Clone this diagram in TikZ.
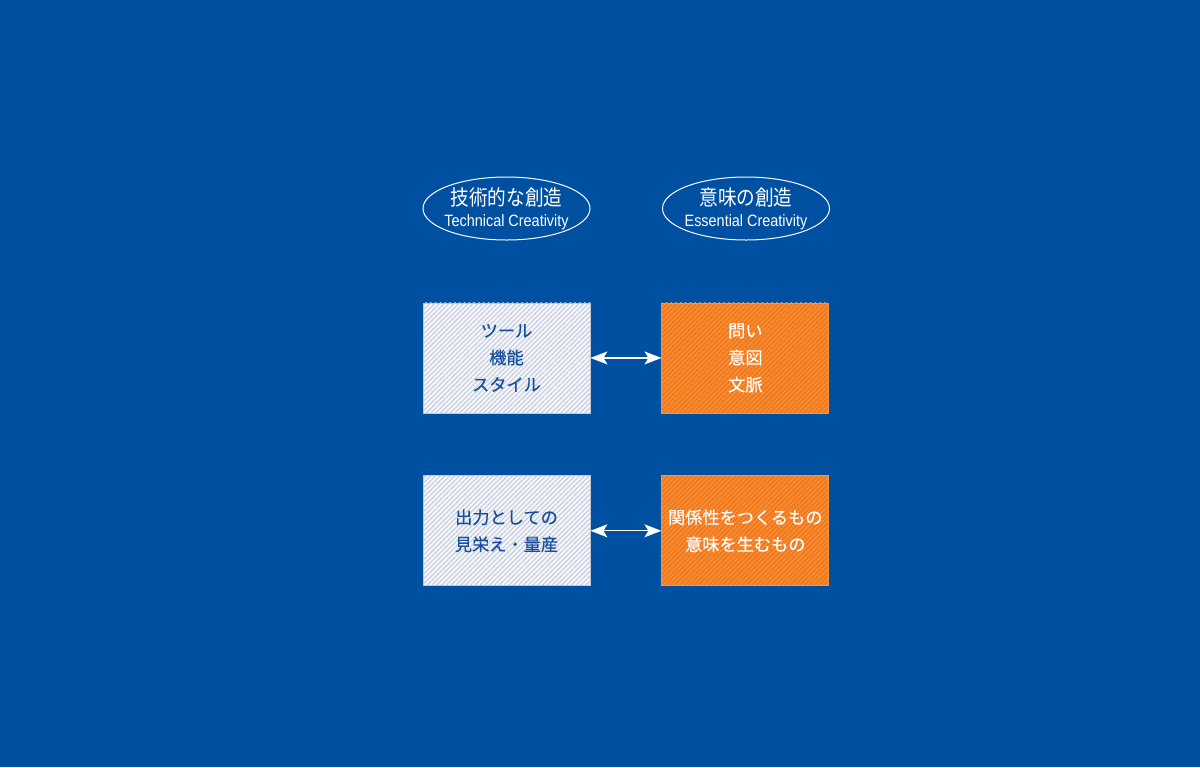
\documentclass[tikz,border=0pt]{standalone}
\usepackage{fontspec}
\newfontfamily\jpfont[FakeBold=0.2]{Noto Sans CJK JP}
\newfontfamily\jptitlefont[FakeStretch=0.88]{Noto Sans CJK JP}
\newfontfamily\subtitlefont[FakeStretch=0.88]{Liberation Sans}
\usetikzlibrary{positioning, shapes.geometric, patterns.meta, arrows.meta}
\definecolor{bgblue}{RGB}{0,80,162}
\definecolor{boxwhite}{RGB}{243,245,250}
\definecolor{hatchgray}{RGB}{192,199,215}
\definecolor{boxorange}{RGB}{240,122,28}
\definecolor{hatchorange}{RGB}{250,150,66}
\definecolor{textblue}{RGB}{22,78,158}
\tikzset{%
    ellsty/.style={
        ellipse,
        draw=white,
        line width=0.5pt,
        text=white,
        align=center,
        inner xsep=-2.4pt,
        inner ysep=-1.5pt,
        minimum width=83.5pt,
        minimum height=31.5pt,
    },
    boxsty/.style={
        rectangle,
        align=center,
        inner sep=0pt,
        minimum width=83.5pt,
        minimum height=55pt,
        font=\jpfont\fontsize{8.6pt}{13.5pt}\selectfont,
    },
    wboxsty/.style={
        boxsty,
        draw=hatchgray,
        line width=0.4pt,
        text=textblue,
        preaction={fill=boxwhite},
        pattern={Lines[angle=45,distance=1.7pt,line width=0.45pt]},
        pattern color=hatchgray,
    },
    oboxsty/.style={
        boxsty,
        draw=hatchorange,
        line width=0.4pt,
        text=white,
        preaction={fill=boxorange},
        pattern={Lines[angle=45,distance=1.7pt,line width=0.45pt]},
        pattern color=hatchorange,
    },
    arrowsty/.style={
        draw=white,
        line width=0.6pt,
        {Stealth[length=8.5pt,width=6.5pt,inset=2pt]}-{Stealth[length=8.5pt,width=6.5pt,inset=2pt]},
    },
}
\newcommand{\ttl}[2]{{\jptitlefont\fontsize{10.6pt}{12pt}\selectfont #1}\\[-1.5pt]{\subtitlefont\fontsize{8.2pt}{9pt}\selectfont #2}}

\begin{document}
\begin{tikzpicture}[]

% background
\fill[bgblue] (0pt,0pt) rectangle (600pt,-383.5pt);
\useasboundingbox (0pt,0pt) rectangle (600pt,-383.5pt);

% column heads
\node (tech) [ellsty] at (253.25pt,-104.25pt) {\ttl{技術的な創造}{Technical Creativity}};
\node (ess) [ellsty,right=35.75pt of tech] {\ttl{意味の創造}{Essential Creativity}};

% boxes
\node (tool) [wboxsty,below=31pt of tech] {ツール\\機能\\スタイル};
\node (intent) [oboxsty,right=35.5pt of tool] {問い\\意図\\文脈};
\node (output) [wboxsty,below=31pt of tool] {出力としての\\見栄え・量産};
\node (meaning) [oboxsty,right=35.5pt of output] {関係性をつくるもの\\意味を生むもの};

% links
\draw[arrowsty] (tool.east) -- (intent.west);
\draw[arrowsty] (output.east) -- (meaning.west);

\end{tikzpicture}
\end{document}
